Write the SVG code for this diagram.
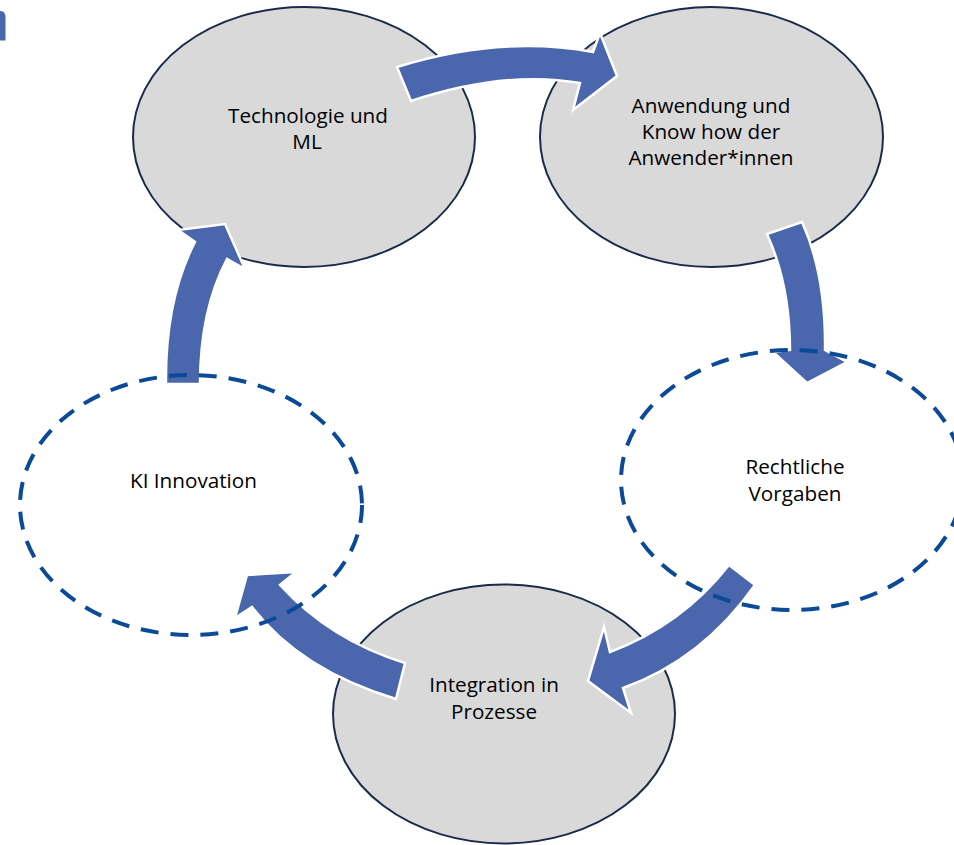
<svg xmlns="http://www.w3.org/2000/svg" width="954" height="845" viewBox="0 0 954 845">
  <style>
    .solid { fill: #d9d9d9; stroke: #1b2a4a; stroke-width: 2; }
    .dashed { fill: none; stroke: #0a4a96; stroke-width: 4; stroke-dasharray: 18 12; }
    .arrow { fill: #4a66ac; stroke: #ffffff; stroke-width: 2.5; stroke-linejoin: miter; }
    .lbl { font-family: "Open Sans", "Liberation Sans", sans-serif; font-size: 20.7px; fill: #000000; text-anchor: middle; }
  </style>
  <rect x="0" y="0" width="954" height="845" fill="#ffffff"/>
  <path d="M0,11 L0.5,11 Q5.5,11 5.5,17 L5.5,40.5 L0,40.5 Z" fill="#4a66ac"/>

  <g id="node-technologie">
    <ellipse class="solid" cx="304" cy="137" rx="171" ry="130"/>
    <text class="lbl" x="308" y="122.5">Technologie und</text>
    <text class="lbl" x="307" y="149">ML</text>
  </g>
  <g id="node-anwendung">
    <ellipse class="solid" cx="711.5" cy="137" rx="171.5" ry="130"/>
    <text class="lbl" x="711" y="113">Anwendung und</text>
    <text class="lbl" x="711" y="139">Know how der</text>
    <text class="lbl" x="711" y="165">Anwender*innen</text>
  </g>
  <g id="node-integration">
    <ellipse class="solid" cx="504" cy="714" rx="171" ry="129.5"/>
    <text class="lbl" x="494" y="692">Integration in</text>
    <text class="lbl" x="494" y="718.5">Prozesse</text>
  </g>

  <g id="connectors">
    <path class="arrow" d="M397,67 Q500,35 593,52 L600,33 L617,76 L573,110 L580,83 Q505,70 411,101 Z"/>
    <path class="arrow" d="M802,222 Q826,275 825,350 L847,362 L807,383 L773,352 L790,350 Q790,285 767,234 Z"/>
    <path class="arrow" d="M729,565 Q682,625 610,652 L604,627 L588,681 L631,713 L623,688 Q702,660 755,585 Z"/>
    <path class="arrow" d="M405,663 Q330,640 280,585 L296,572 L247,575 L235,618 L252,607 Q300,670 396,699 Z"/>
    <path class="arrow" d="M166,384 Q165,300 195,242 L178,230 L225,224 L245,269 L227,259 Q200,310 200,384 Z"/>
  </g>

  <g id="node-rechtliche">
    <ellipse class="dashed" cx="792" cy="480" rx="171" ry="130"/>
    <text class="lbl" x="795" y="473.5">Rechtliche</text>
    <text class="lbl" x="795" y="500.5">Vorgaben</text>
  </g>
  <g id="node-ki">
    <ellipse class="dashed" cx="191" cy="505" rx="171" ry="130"/>
    <text class="lbl" x="193.5" y="487.5">KI Innovation</text>
  </g>
</svg>
